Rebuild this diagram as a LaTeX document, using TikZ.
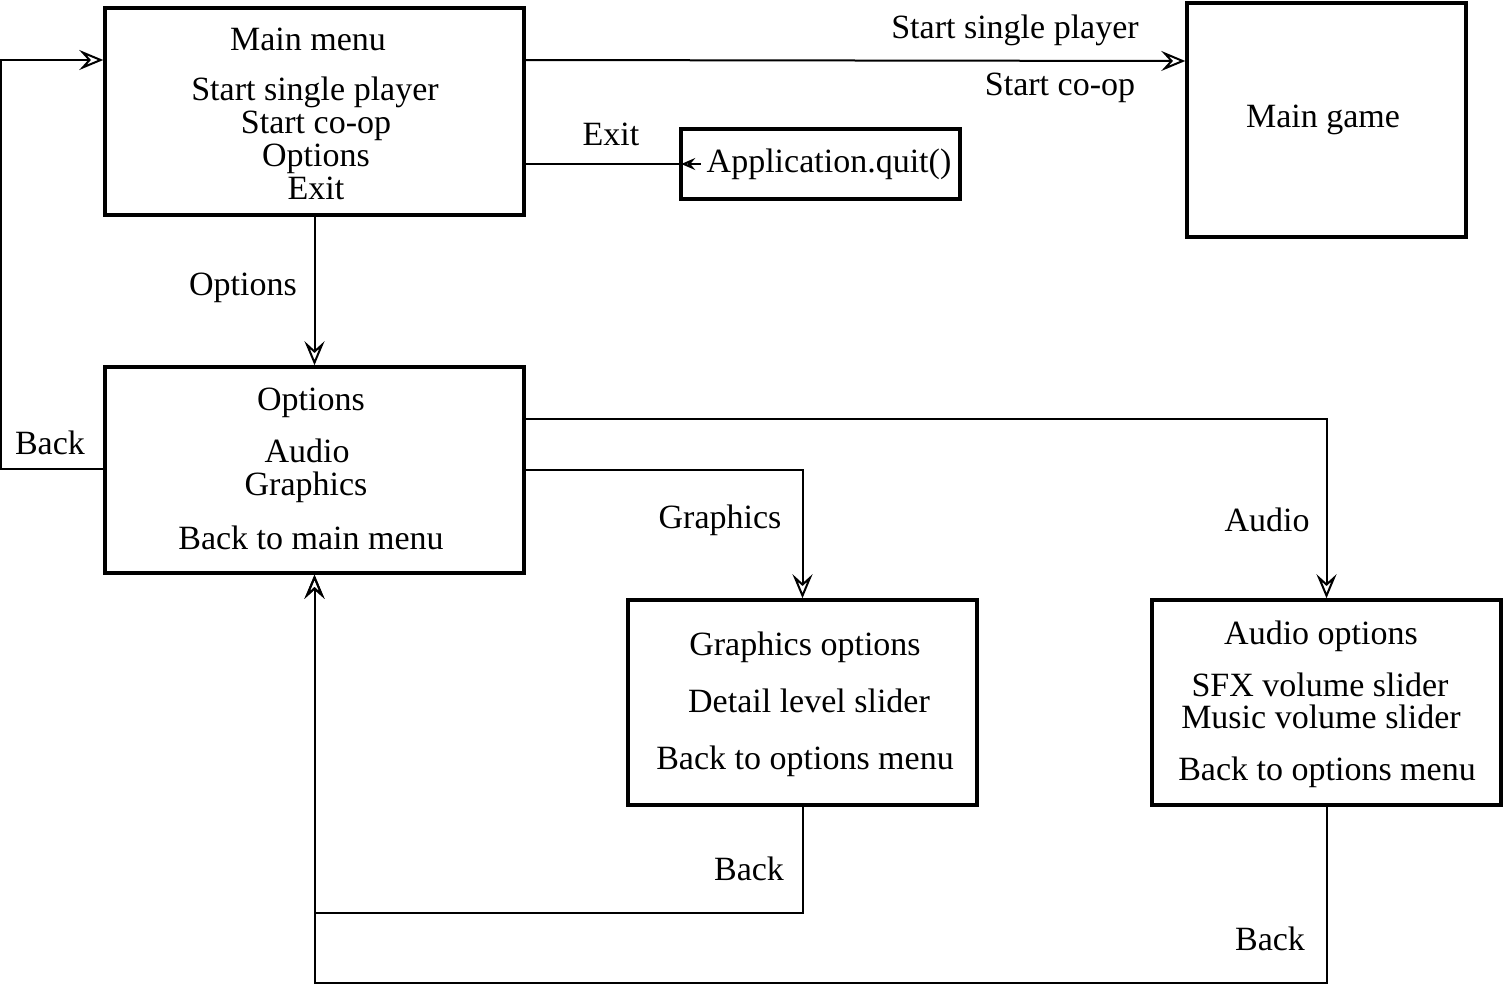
\documentclass[tikz,border=0pt]{standalone}
\usepackage{fontspec}
\setmainfont{Liberation Serif}
\usetikzlibrary{arrows.meta}
\begin{document}
\begin{tikzpicture}[x=0.5pt,y=-0.5pt,
  box/.style={draw, line width=1.75pt, rectangle, inner sep=0pt},
  conn/.style={line width=1pt},
  arr/.style={conn, -{Stealth[open, length=12pt, width=10pt, inset=4.5pt]}},
  txt/.style={anchor=base, inner sep=0pt, font=\fontsize{17pt}{18pt}\selectfont}]
\useasboundingbox (0,0) rectangle (1503,985);
% boxes
\node[box, minimum width=209.5pt, minimum height=103.5pt] (mm) at (314.5,111.5) {};
\node[box, minimum width=139.5pt, minimum height=117pt] (mg) at (1326.5,120) {};
\node[box, minimum width=139.5pt, minimum height=35pt] (aq) at (820.5,164) {};
\node[box, minimum width=209.5pt, minimum height=103pt] (op) at (314.5,470) {};
\node[box, minimum width=174.5pt, minimum height=102.5pt] (go) at (802.5,702.5) {};
\node[box, minimum width=174.5pt, minimum height=102.5pt] (ao) at (1326.5,702.5) {};
% box texts
\node[txt] (t1) at (308,50) {Main menu};
\node[txt] (t2) at (315,100) {Start single player};
\node[txt] (t3) at (316,133) {Start co-op};
\node[txt] (t4) at (316,166) {Options};
\node[txt] (t5) at (316,199) {Exit};
\node[txt] (t6) at (1323,127) {Main game};
\node[txt] (t7) at (829,172) {Application.quit()};
\node[txt] (t8) at (311,410) {Options};
\node[txt] (t9) at (307,462) {Audio};
\node[txt] (t10) at (306,495) {Graphics};
\node[txt] (t11) at (311,549) {Back to main menu};
\node[txt] (t12) at (805,655) {Graphics options};
\node[txt] (t13) at (809,712) {Detail level slider};
\node[txt] (t14) at (805,769) {Back to options menu};
\node[txt] (t15) at (1321,644) {Audio options};
\node[txt] (t16) at (1320,696) {SFX volume slider};
\node[txt] (t17) at (1321,728) {Music volume slider};
\node[txt] (t18) at (1327,780) {Back to options menu};
% connector labels
\node[txt] (l1) at (1015,39) {Start single player};
\node[txt] (l2) at (1060,95) {Start co-op};
\node[txt] (l3) at (611,145) {Exit};
\node[txt] (l4) at (243,295) {Options};
\node[txt] (l5) at (50,454) {Back};
\node[txt] (l6) at (720,528) {Graphics};
\node[txt] (l7) at (1267,531) {Audio};
\node[txt] (l8) at (749,880) {Back};
\node[txt] (l9) at (1270,950) {Back};
% connectors
\draw[arr] (mm.east |- 0,60) -- (mg.west |- 0,61);
\draw[conn] (mm.east |- 0,164) -- (aq.west);
\draw[conn, {Stealth[open, length=7pt, width=6pt, inset=2.5pt]}-] ([xshift=1pt]aq.west) -- ++(20,0);
\draw[arr] (mm.south) -- (op.north);
\draw[arr] (op.west |- 0,469) -| (1,60) -- (mm.west |- 0,60);
\draw[arr] (op.east |- 0,470) -| (go.north);
\draw[arr] (op.east |- 0,419) -| (ao.north);
\draw[arr] (go.south) |- (op.south |- 0,913) -- (op.south);
\draw[arr] (ao.south) |- (op.south |- 0,983) -- (op.south);
\end{tikzpicture}
\end{document}
